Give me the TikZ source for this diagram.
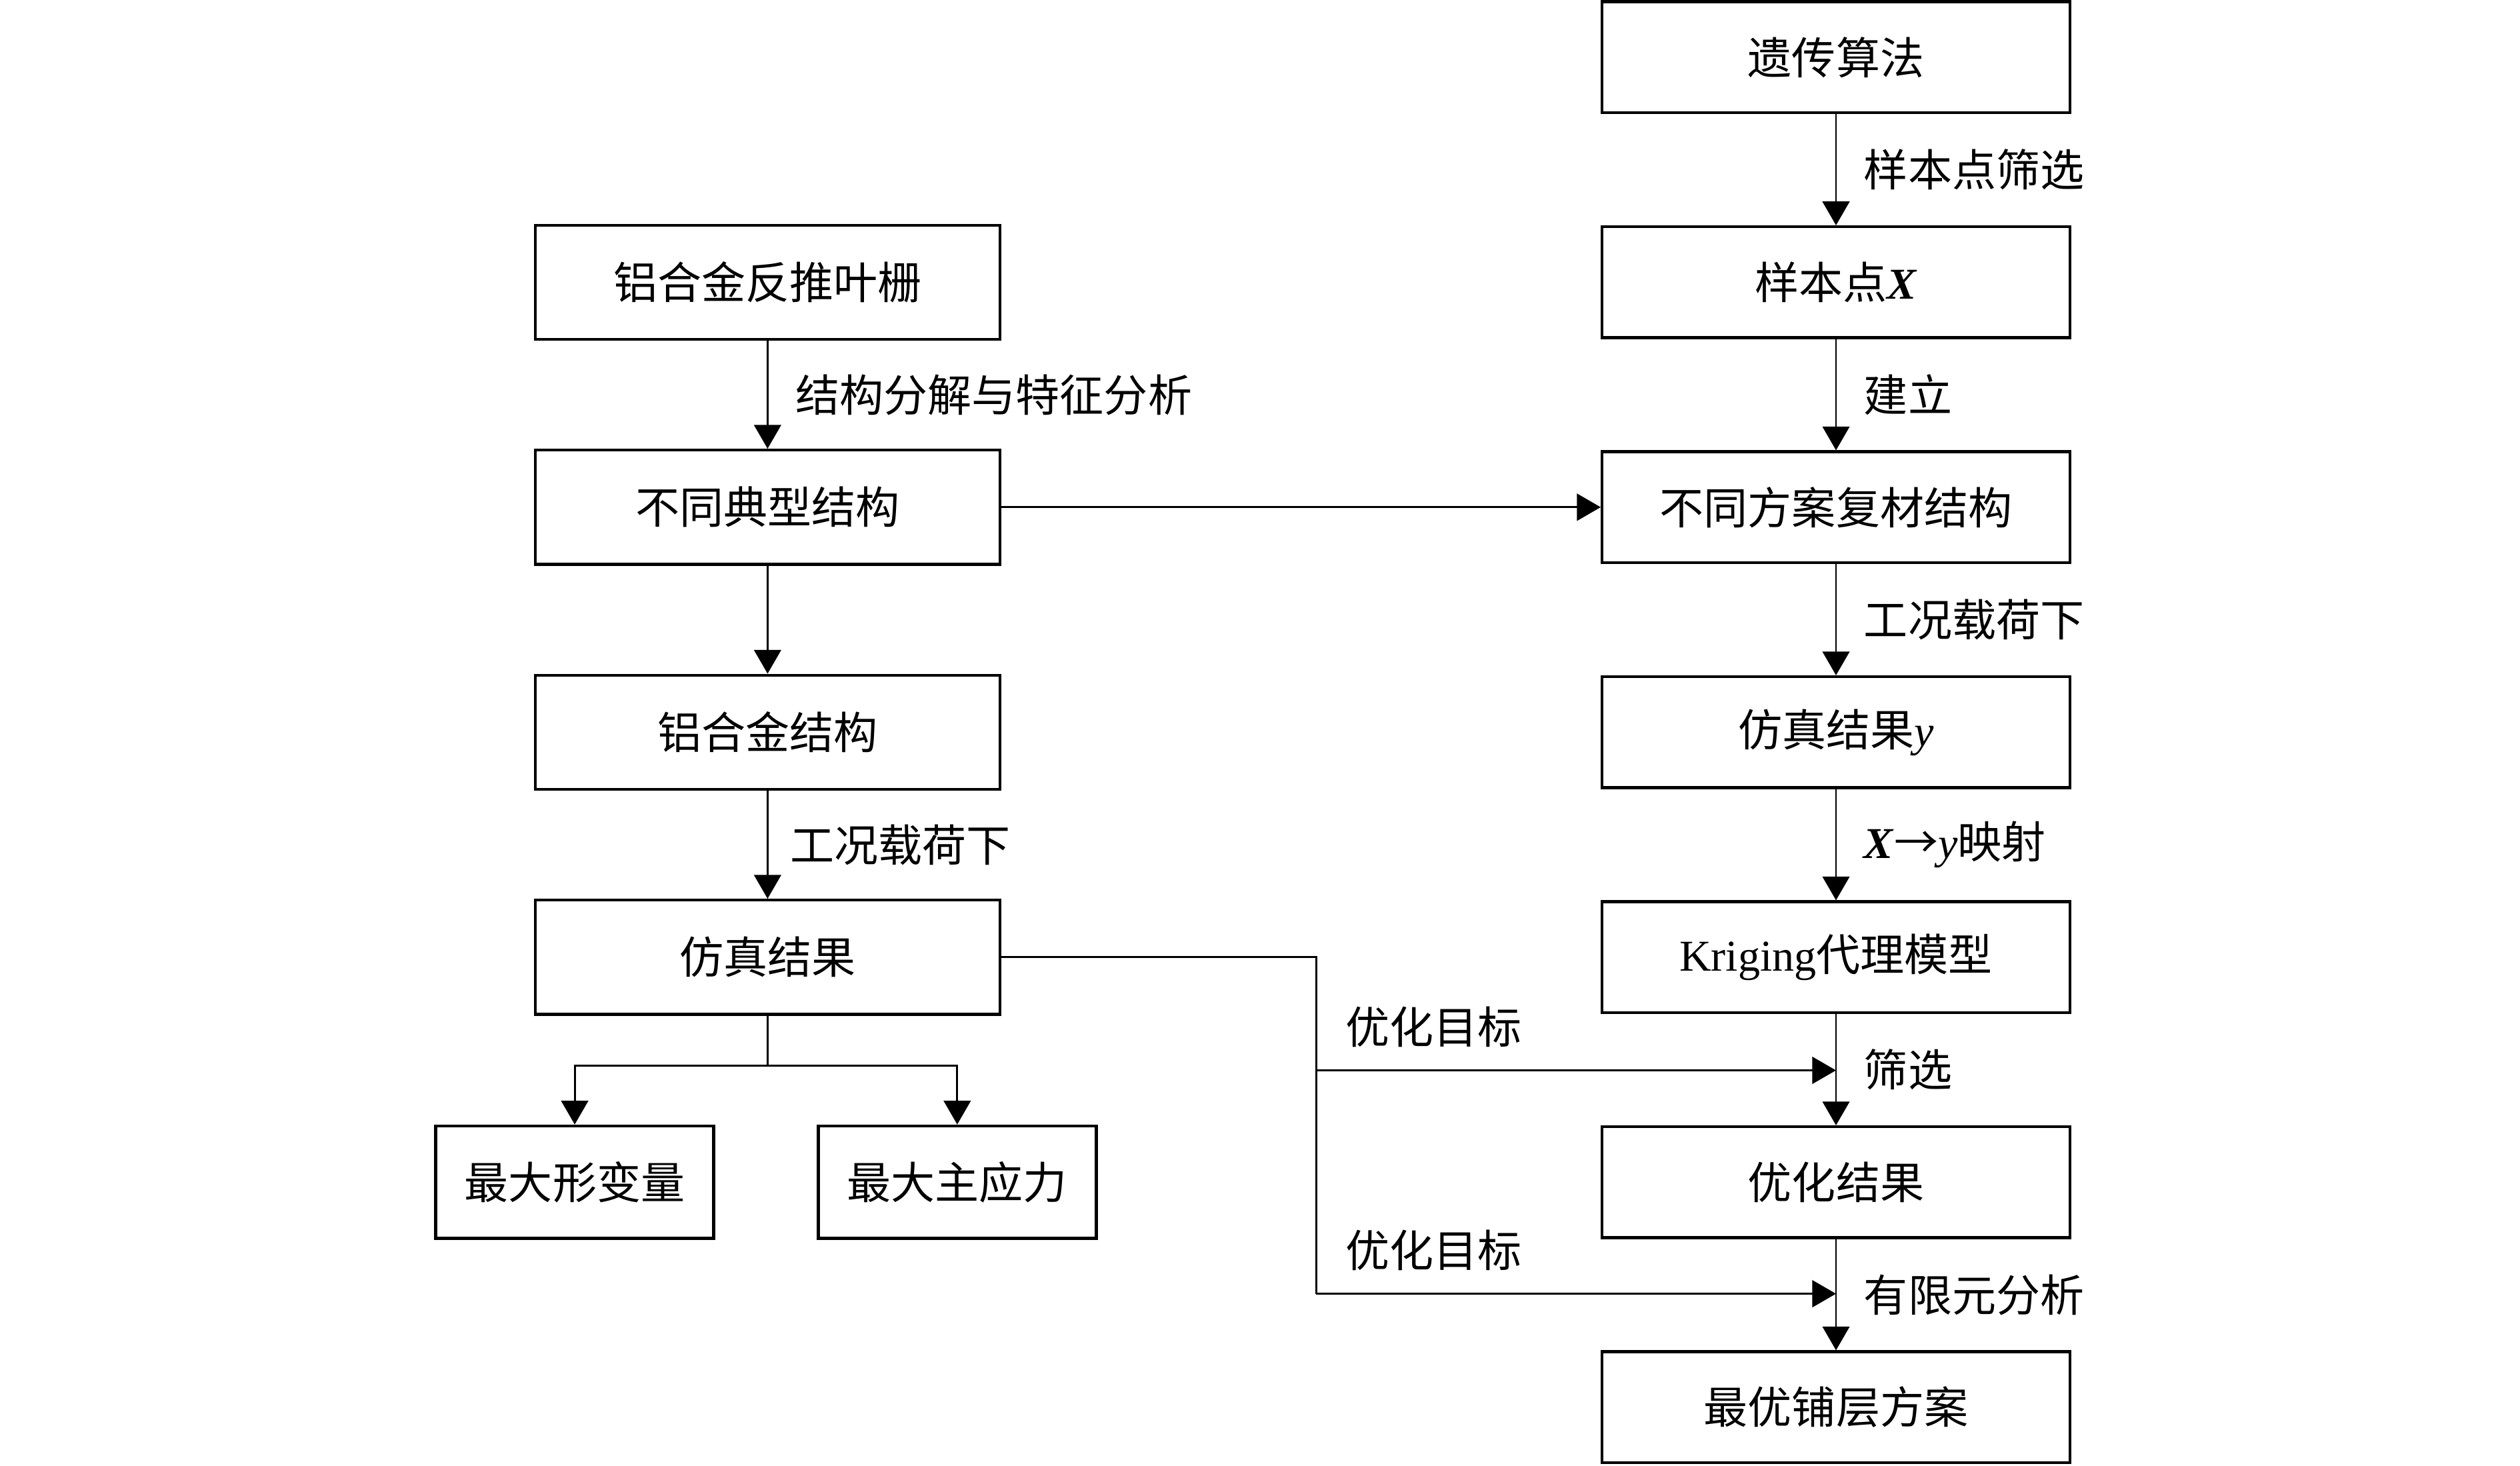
\documentclass[tikz,border=0pt]{standalone}
\usepackage{fontspec}
\setmainfont{Liberation Serif}
\newfontfamily\cjk{Noto Sans CJK SC}
\usetikzlibrary{arrows.meta,calc,positioning}
\newcommand{\vX}{\textrm{\bfseries\itshape X}}
\newcommand{\vy}{\textrm{\itshape y}}
\tikzset{
  box/.style={draw, line width=1.3pt, minimum width=7.275cm, minimum height=1.725cm,
              inner sep=2pt, font=\cjk\fontsize{19.5}{23}\selectfont},
  lbox/.style={box, minimum width=7.225cm, minimum height=1.775cm},
  sbox/.style={box, minimum width=4.325cm, minimum height=1.75cm},
  link/.style={line width=0.85pt},
  flow/.style={link, -{Triangle[length=0.37cm, width=0.42cm]}},
  txt/.style={inner sep=0pt, font=\cjk\fontsize{19.5}{23}\selectfont},
  lbl/.style={txt, right, xshift=0.42cm}
}

\begin{document}
\begin{tikzpicture}
  \useasboundingbox (0,0) rectangle (39.2,22.8);

  % left column
  \node[lbox] (blade) at (11.94, 18.41) {铝合金反推叶栅};
  \node[lbox] (typ)   at (11.94, 14.91) {不同典型结构};
  \node[lbox] (alu)   at (11.94, 11.41) {铝合金结构};
  \node[lbox] (sim)   at (11.94, 7.91)  {仿真结果};
  \node[sbox] (maxd)  at (8.94, 4.41)   {最大形变量};
  \node[sbox] (maxs)  at (14.89, 4.41)  {最大主应力};

  % right column
  \node[box] (ga)    at (28.56, 21.91) {遗传算法};
  \node[box] (samp)  at (28.56, 18.41) {样本点\vX};
  \node[box] (comp)  at (28.56, 14.91) {不同方案复材结构};
  \node[box] (simy)  at (28.56, 11.41) {仿真结果\vy};
  \node[box] (krig)  at (28.56, 7.91)  {\textrm{Kriging}代理模型};
  \node[box] (optr)  at (28.56, 4.41)  {优化结果};
  \node[box] (best)  at (28.56, 0.91)  {最优铺层方案};

  % left connectors
  \draw[flow] (blade) -- node[lbl] {结构分解与特征分析} (typ);
  \draw[flow] (typ) -- (alu);
  \draw[flow] (alu) -- node[lbl, xshift=-0.08cm] {工况载荷下} (sim);
  \coordinate (brk) at (11.94, 6.225);
  \draw[link] (sim) -- (brk);
  \draw[flow] (brk) -| (maxd);
  \draw[flow] (brk) -| (maxs);

  % right connectors
  \draw[flow] (ga) -- node[lbl] {样本点筛选} (samp);
  \draw[flow] (samp) -- node[lbl] {建立} (comp);
  \draw[flow] (comp) -- node[lbl] {工况载荷下} (simy);
  \draw[flow] (simy) -- node[lbl] {\vX→\vy 映射} (krig);
  \draw[flow] (krig) -- node[lbl] {筛选} (optr);
  \draw[flow] (optr) -- node[lbl] {有限元分析} (best);
  \draw[flow] (typ) -- (comp);

  % optimisation targets
  \coordinate (j1) at (20.475, 6.15);
  \coordinate (j2) at (20.475, 2.675);
  \coordinate (t1) at (j1 -| krig.south);
  \coordinate (t2) at (j2 -| krig.south);
  \draw[link] (sim.east) -| (j2);
  \draw[flow] (j1) -- (t1);
  \draw[flow] (j2) -- (t2);
  \node[txt, anchor=base west, xshift=0.45cm, yshift=0.42cm] (tgt1) at (j1) {优化目标};
  \node[txt, anchor=base west, xshift=0.45cm, yshift=0.42cm] (tgt2) at (j2) {优化目标};

\end{tikzpicture}
\end{document}
